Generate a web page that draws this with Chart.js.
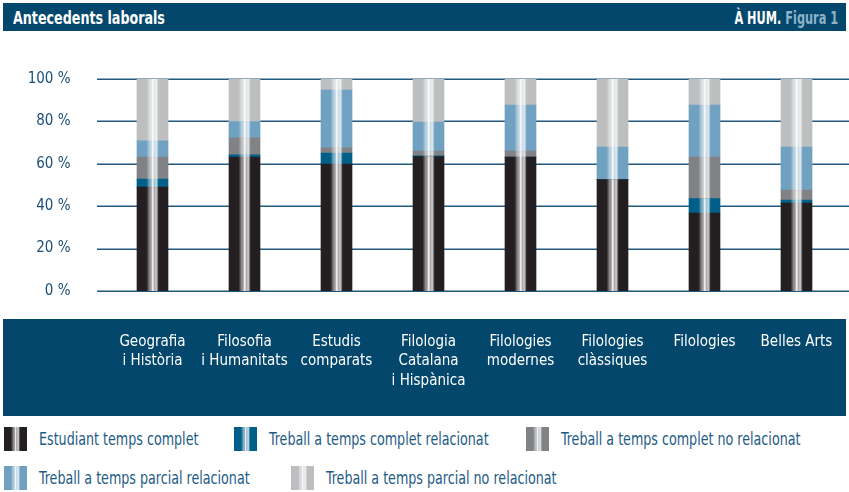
<!DOCTYPE html>
<html>
<head>
<meta charset="utf-8">
<script src="https://cdn.jsdelivr.net/npm/chart.js@4.4.1/dist/chart.umd.min.js"></script>
<style>
  html, body { margin: 0; padding: 0; background: #ffffff; }
  #wrap { position: relative; width: 849px; height: 492px; overflow: hidden;
    font-family: 'DejaVu Sans Condensed', 'Liberation Sans Narrow', 'Roboto', sans-serif; }
  #header { position: absolute; left: 3px; top: 3px; width: 843px; height: 28px; background: #03486c; }
  #title { position: absolute; left: 10px; top: 5px; color: #fff; font-weight: bold; font-size: 17px;
    white-space: nowrap; transform: scaleX(0.83); transform-origin: left center; }
  #fig { position: absolute; right: 8px; top: 5px; color: #fff; font-weight: bold; font-size: 17px;
    white-space: nowrap; transform: scaleX(0.74); transform-origin: right center; }
  #fig span { color: #8fb2c9; }
  #band { position: absolute; left: 3px; top: 319px; width: 843px; height: 97px; background: #03486c; }
  #chart { position: absolute; left: 0; top: 0; z-index: 2; }
  .lg { position: absolute; display: flex; align-items: center; color: #1d5b86; font-size: 17px; white-space: nowrap; }
  .lg span { display: inline-block; transform: scaleX(0.83); transform-origin: left center; }
  .mk { width: 23px; height: 24px; margin-right: 12px; flex: none; }
</style>
</head>
<body>
<div id="wrap">
  <div id="header"><div id="title">Antecedents laborals</div><div id="fig">À HUM. <span>Figura 1</span></div></div>
  <div id="band"></div>
  <canvas id="chart" width="849" height="492"></canvas>
  <div id="legend"></div>
</div>
<script>
const categories = [
  ["Geografia", "i Història"],
  ["Filosofia", "i Humanitats"],
  ["Estudis", "comparats"],
  ["Filologia", "Catalana", "i Hispànica"],
  ["Filologies", "modernes"],
  ["Filologies", "clàssiques"],
  ["Filologies"],
  ["Belles Arts"]
];
const seriesNames = [
  "Estudiant temps complet",
  "Treball a temps complet relacionat",
  "Treball a temps complet no relacionat",
  "Treball a temps parcial relacionat",
  "Treball a temps parcial no relacionat"
];
const estudiantTempsComplet = [49.0, 63.2, 59.9, 63.4, 63.2, 52.5, 36.8, 41.5];
const completRelacionat     = [3.8, 1.0, 5.2, 0.4, 0, 0, 6.8, 1.4];
const completNoRelacionat   = [10.4, 8.0, 2.4, 2.2, 2.8, 0, 19.6, 4.7];
const parcialRelacionat     = [7.6, 7.7, 27.3, 13.7, 21.7, 15.4, 24.5, 20.3];
const parcialNoRelacionat   = [29.2, 20.1, 5.2, 20.3, 12.3, 32.1, 12.3, 32.1];
const yTicks = [0, 20, 40, 60, 80, 100];

const colors = ["#231f20", "#005f89", "#808285", "#71a1c0", "#bcbec0"];
const seriesData = [estudiantTempsComplet, completRelacionat, completNoRelacionat, parcialRelacionat, parcialNoRelacionat];
const FONT = "'DejaVu Sans Condensed', 'Liberation Sans Narrow', 'Roboto', sans-serif";

// stripe overlay stops (relative position across bar, white alpha)
const stripeStops = [
  [0.0, 0], [0.30, 0], [0.34, 0.15], [0.40, 0.45], [0.46, 0.55], [0.49, 0.92], [0.53, 0.85],
  [0.55, 0.55], [0.59, 0.7], [0.64, 0.72], [0.67, 0.3], [0.70, 0], [1.0, 0]
];
function stripeGradient(ctx, x0, w) {
  const g = ctx.createLinearGradient(x0, 0, x0 + w, 0);
  stripeStops.forEach(([p, a]) => g.addColorStop(p, 'rgba(255,255,255,' + a + ')'));
  return g;
}

const stripePlugin = {
  id: 'stripes',
  beforeDatasetsDraw(chart) {
    const ctx = chart.ctx, y = chart.scales.y;
    ctx.save();
    ctx.strokeStyle = '#24597e';
    ctx.lineWidth = 1.5;
    yTicks.forEach(v => {
      const py = Math.round(y.getPixelForValue(v)) + 0.25;
      ctx.beginPath(); ctx.moveTo(97, py); ctx.lineTo(849, py); ctx.stroke();
    });
    ctx.restore();
  },
  afterDatasetsDraw(chart) {
    const ctx = chart.ctx;
    ctx.save();
    chart.data.datasets.forEach((ds, i) => {
      chart.getDatasetMeta(i).data.forEach(el => {
        const w = el.width, x0 = el.x - w / 2;
        const top = Math.min(el.y, el.base), h = Math.abs(el.base - el.y);
        if (h <= 0) return;
        ctx.fillStyle = stripeGradient(ctx, x0, w);
        ctx.fillRect(x0, top, w, h);
      });
    });
    ctx.restore();
  }
};

new Chart(document.getElementById('chart'), {
  type: 'bar',
  data: {
    labels: categories,
    datasets: seriesData.map((d, i) => ({
      label: seriesNames[i], data: d, backgroundColor: colors[i],
      borderWidth: 0, barThickness: 31
    }))
  },
  options: {
    responsive: false,
    animation: false,
    devicePixelRatio: 1,
    layout: { padding: { top: 79, right: 6.5, left: 0, bottom: 0 } },
    plugins: { legend: { display: false }, tooltip: { enabled: false } },
    scales: {
      x: {
        stacked: true,
        grid: { display: false, drawTicks: true, tickLength: 41 },
        border: { display: false },
        ticks: { color: '#ffffff', font: { family: FONT, size: 15, lineHeight: 1.3 }, padding: 0, maxRotation: 0, autoSkip: false },
        afterFit(scale) { scale.height = 201; }
      },
      y: {
        stacked: true, min: 0, max: 100,
        grid: { display: false, drawTicks: false },
        border: { display: false },
        ticks: { stepSize: 20, color: '#1d5079', font: { family: FONT, size: 15 }, padding: 36,
          callback: v => v + ' %' },
        afterFit(scale) { scale.width = 106.5; }
      }
    }
  },
  plugins: [stripePlugin]
});

// HTML legend
const legendPos = [[4, 427], [234, 427], [526, 427], [4, 466], [291, 466]];
const legend = document.getElementById('legend');
seriesNames.forEach((name, i) => {
  const item = document.createElement('div');
  item.className = 'lg';
  item.style.left = legendPos[i][0] + 'px';
  item.style.top = legendPos[i][1] + 'px';
  const mk = document.createElement('div');
  mk.className = 'mk';
  const grad = stripeStops.map(([p, a]) => 'rgba(255,255,255,' + a + ') ' + (p * 100) + '%').join(', ');
  mk.style.background = 'linear-gradient(to right, ' + grad + '), ' + colors[i];
  const tx = document.createElement('span');
  tx.textContent = name;
  item.appendChild(mk); item.appendChild(tx);
  legend.appendChild(item);
});
</script>
</body>
</html>
